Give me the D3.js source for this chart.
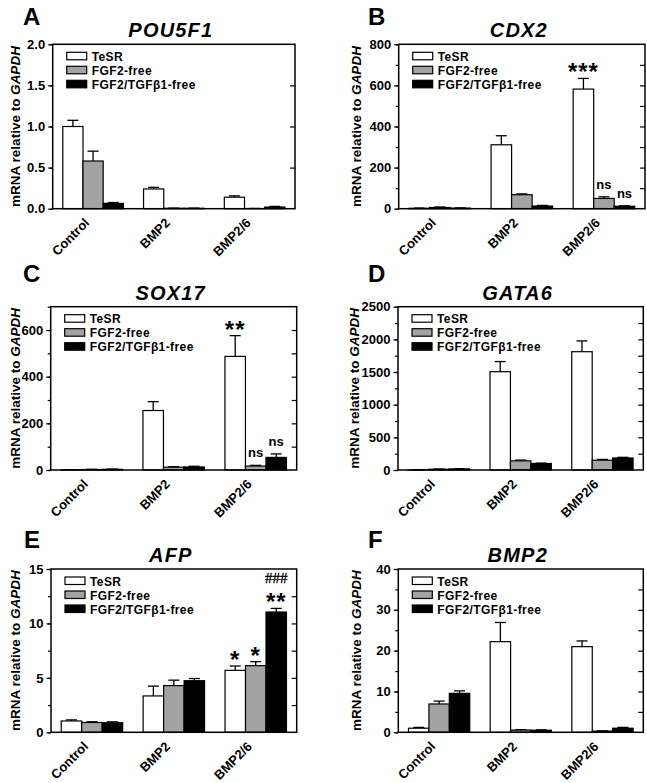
<!DOCTYPE html>
<html>
<head>
<meta charset="utf-8">
<script src="https://cdn.jsdelivr.net/npm/d3@7"></script>
<style>
  html, body { margin: 0; padding: 0; background: #fff; }
  svg { display: block; font-family: "Liberation Sans", Arial, sans-serif; }
</style>
</head>
<body>
<svg id="chart" width="647" height="783"></svg>
<script>
// ---------------- DATA ----------------
const categories = ["Control", "BMP2", "BMP2/6"];
const seriesNames = ["TeSR", "FGF2-free", "FGF2/TGFβ1-free"];

const panelLetters = ["A", "B", "C", "D", "E", "F"];
const geneNames = ["POU5F1", "CDX2", "SOX17", "GATA6", "AFP", "BMP2"];
const yMax = [2, 800, 700, 2500, 15, 40];
const majorStep = [0.5, 200, 200, 500, 5, 10];
const minorStep = [0.5, 100, 100, 250, 2.5, 5];
const tickFormats = [".1f", "d", "d", "d", "d", "d"];

// means [category][series]
const pou5f1Mean = [[1.00, 0.58, 0.065], [0.24, 0.005, 0.005], [0.14, 0.002, 0.02]];
const pou5f1Err  = [[0.075, 0.12, 0.01], [0.02, 0.002, 0.002], [0.016, 0.001, 0.008]];
const cdx2Mean   = [[2, 6, 3], [311, 68, 13], [582, 50, 12]];
const cdx2Err    = [[1, 2, 1], [44, 4, 3], [52, 8, 2]];
const sox17Mean  = [[1, 2, 3], [255, 12, 13], [487, 17, 54]];
const sox17Err   = [[0.5, 1, 1], [38, 2, 3], [89, 3, 15]];
const gata6Mean  = [[2, 12, 17], [1505, 140, 100], [1811, 150, 184]];
const gata6Err   = [[1, 3, 3], [155, 12, 5], [165, 12, 10]];
const afpMean    = [[1.04, 0.90, 0.88], [3.34, 4.29, 4.74], [5.69, 6.12, 11.05]];
const afpErr     = [[0.10, 0.07, 0.08], [0.90, 0.50, 0.20], [0.40, 0.37, 0.33]];
const bmp2Mean   = [[1.0, 6.94, 9.55], [22.2, 0.55, 0.5], [20.98, 0.3, 1.0]];
const bmp2Err    = [[0.2, 0.7, 0.6], [4.7, 0.1, 0.1], [1.4, 0.05, 0.2]];

const panelMeans = [pou5f1Mean, cdx2Mean, sox17Mean, gata6Mean, afpMean, bmp2Mean];
const panelErrs  = [pou5f1Err, cdx2Err, sox17Err, gata6Err, afpErr, bmp2Err];

// significance marks: panel index, category index, series index, text, stack level
const annotations = [
  {p: 1, c: 2, s: 0, t: "***", lvl: 0},
  {p: 1, c: 2, s: 1, t: "ns", lvl: 0},
  {p: 1, c: 2, s: 2, t: "ns", lvl: 0},
  {p: 2, c: 2, s: 0, t: "**", lvl: 0},
  {p: 2, c: 2, s: 1, t: "ns", lvl: 0},
  {p: 2, c: 2, s: 2, t: "ns", lvl: 0},
  {p: 4, c: 2, s: 0, t: "*", lvl: 0},
  {p: 4, c: 2, s: 1, t: "*", lvl: 0},
  {p: 4, c: 2, s: 2, t: "**", lvl: 0},
  {p: 4, c: 2, s: 2, t: "###", lvl: 1}
];

// ---------------- LAYOUT ----------------
const layout = [
  {x: 52.7, y: 44.3, w: 242.3, h: 164.4, letterX: 23, letterY: 25, axisX: 20},
  {x: 398.7, y: 44.3, w: 246.3, h: 164.4, letterX: 368, letterY: 25, axisX: 361},
  {x: 50.7, y: 306.7, w: 246, h: 163.3, letterX: 23, letterY: 281.5, axisX: 20},
  {x: 398, y: 306.7, w: 245.3, h: 163.3, letterX: 368, letterY: 281.5, axisX: 359},
  {x: 51, y: 569, w: 245.7, h: 163.3, letterX: 24, letterY: 548, axisX: 20},
  {x: 398.3, y: 569, w: 245, h: 163.3, letterX: 368, letterY: 548, axisX: 361}
];
const fills = ["#ffffff", "#a3a3a3", "#000000"];

const svg = d3.select("#chart");

layout.forEach((L, pi) => {
  const g = svg.append("g").attr("transform", `translate(${L.x},${L.y})`);
  const means = panelMeans[pi], errs = panelErrs[pi];

  const x0 = d3.scaleBand().domain(categories).range([0, L.w]).paddingInner(0.25).paddingOuter(0.125);
  const x1 = d3.scaleBand().domain(seriesNames).range([0, x0.bandwidth()]);
  const y = d3.scaleLinear().domain([0, yMax[pi]]).range([L.h, 0]);

  const majors = d3.range(0, yMax[pi] + 1e-9, majorStep[pi]);
  const minors = d3.range(0, yMax[pi] + 1e-9, minorStep[pi]);
  const fmt = d3.format(tickFormats[pi]);

  // left axis minor ticks
  g.append("g").call(d3.axisLeft(y).tickValues(minors).tickSize(3).tickFormat(""))
    .call(a => a.select(".domain").remove())
    .call(a => a.selectAll("line").attr("stroke-width", 1.2));
  // left axis major
  g.append("g").call(d3.axisLeft(y).tickValues(majors).tickSize(4.5).tickPadding(3).tickFormat(fmt))
    .call(a => a.select(".domain").remove())
    .call(a => a.selectAll("line").attr("stroke-width", 1.2))
    .call(a => a.selectAll("text").attr("font-size", 13).attr("font-weight", "bold")
      .attr("font-family", "'Liberation Sans', Arial, sans-serif").attr("fill", "#000"));
  // right axis inward ticks
  const rightTicks = minors.filter(v => v > 0 && v < yMax[pi]);
  g.append("g").attr("transform", `translate(${L.w},0)`)
    .call(d3.axisRight(y).tickValues(rightTicks).tickSize(-5).tickFormat(""))
    .call(a => a.select(".domain").remove())
    .call(a => a.selectAll("line").attr("stroke-width", 1.2));

  // bars
  categories.forEach((cat, ci) => {
    seriesNames.forEach((sn, si) => {
      const v = means[ci][si], e = errs[ci][si];
      const bx = x0(cat) + x1(sn);
      const bw = x1.bandwidth();
      const cx = bx + bw / 2;
      g.append("line").attr("x1", cx).attr("x2", cx).attr("y1", y(v)).attr("y2", y(v + e))
        .attr("stroke", "#000").attr("stroke-width", 1.3);
      g.append("line").attr("x1", cx - 5.5).attr("x2", cx + 5.5).attr("y1", y(v + e)).attr("y2", y(v + e))
        .attr("stroke", "#000").attr("stroke-width", 1.3);
      g.append("rect").attr("x", bx).attr("y", y(v)).attr("width", bw).attr("height", Math.max(0, y(0) - y(v)))
        .attr("fill", fills[si]).attr("stroke", "#000").attr("stroke-width", 1.2);
    });
  });

  // frame
  g.append("rect").attr("x", 0).attr("y", 0).attr("width", L.w).attr("height", L.h)
    .attr("fill", "none").attr("stroke", "#000").attr("stroke-width", 1.5);

  // category labels
  categories.forEach(cat => {
    const cx = x0(cat) + x0.bandwidth() / 2;
    g.append("text").attr("transform", `translate(${cx - 3},${L.h + 15}) rotate(-45)`)
      .attr("text-anchor", "end").attr("font-size", 13).attr("font-weight", "bold").text(cat);
  });

  // legend
  seriesNames.forEach((sn, si) => {
    const ly = 8 + si * 14;
    g.append("rect").attr("x", 14).attr("y", ly).attr("width", 20).attr("height", 7.5)
      .attr("fill", fills[si]).attr("stroke", "#000").attr("stroke-width", 1.2);
    g.append("text").attr("x", 39).attr("y", ly + 8.5).attr("font-size", 12).attr("font-weight", "bold")
      .attr("letter-spacing", 0.4).text(sn);
  });

  // gene title
  g.append("text").attr("x", L.w / 2 - 3).attr("y", -7).attr("text-anchor", "middle")
    .attr("font-size", 20).attr("font-weight", "bold").attr("font-style", "italic")
    .attr("letter-spacing", 1.2).text(geneNames[pi]);

  // significance marks
  annotations.filter(a => a.p === pi).forEach(a => {
    const cat = categories[a.c], sn = seriesNames[a.s];
    const cx = x0(cat) + x1(sn) + x1.bandwidth() / 2;
    const top = y(means[a.c][a.s] + errs[a.c][a.s]);
    const isStar = a.t.includes("*");
    const isHash = a.t.includes("#");
    let yy = isStar ? top + 2 : top - 8;
    if (isHash) yy = top - 25;
    const t = g.append("text").attr("x", cx).attr("y", yy).attr("text-anchor", "middle").text(a.t);
    if (isStar) t.attr("font-size", 24).attr("font-weight", "bold").attr("letter-spacing", 1);
    else if (isHash) t.attr("font-size", 15).attr("font-family", "'Liberation Serif', serif")
      .attr("fill", "#000").attr("stroke", "#000").attr("stroke-width", 0.35);
    else t.attr("font-size", 13).attr("font-weight", "bold");
  });

  // panel letter
  svg.append("text").attr("x", L.letterX).attr("y", L.letterY).attr("font-size", 24)
    .attr("font-weight", "bold").text(panelLetters[pi]);

  // y-axis title
  const at = svg.append("text")
    .attr("transform", `translate(${L.axisX},${L.y + L.h / 2}) rotate(-90)`)
    .attr("text-anchor", "middle").attr("font-size", 13.5).attr("font-weight", "bold");
  at.append("tspan").text("mRNA relative to ");
  at.append("tspan").attr("font-style", "italic").text("GAPDH");
});
</script>
</body>
</html>
